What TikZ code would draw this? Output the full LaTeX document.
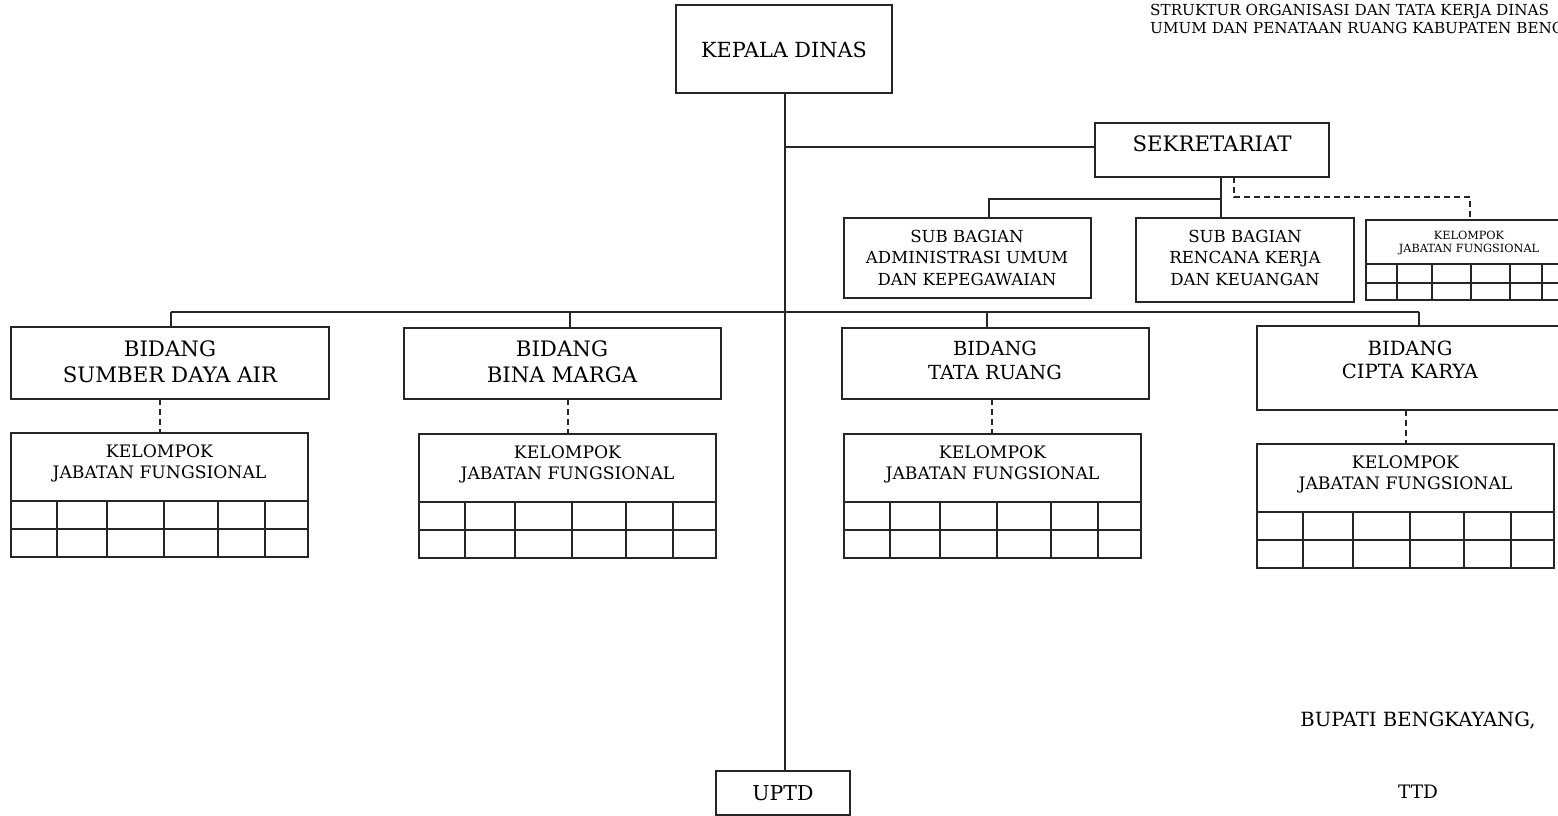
\documentclass[tikz,border=0pt]{standalone}
\usepackage{fontspec}
\setmainfont{DejaVu Serif}
\usetikzlibrary{calc}
\tikzset{
  box/.style={draw=black!85, line width=1.3pt, inner sep=0pt, outer sep=0pt},
  lbl/.style={align=center, inner sep=0pt, text=black},
  conn/.style={draw=black!85, line width=1.3pt},
  dconn/.style={draw=black!85, line width=1.3pt, dash pattern=on 6pt off 4pt},
}
\newcommand\kjfbox[3]{%
  \node[box, anchor=north west, minimum width=297pt, minimum height=124pt] (#1) at (#2,#3) {};
  \draw[conn] ($(#1.north west)+(0,68)$) -- ++(297,0);
  \draw[conn] ($(#1.north west)+(0,96)$) -- ++(297,0);
  \foreach \o in {46,96,153,207,254} {\draw[conn] ($(#1.north west)+(\o,68)$) -- ++(0,56);}
  \node[lbl, font=\fontsize{17.2}{21}\selectfont] at ($(#1.north)+(0,30)$) {KELOMPOK\\JABATAN FUNGSIONAL};
}
\begin{document}
\begin{tikzpicture}[x=1pt,y=-1pt]
\clip (0,0) rectangle (1558,816);
\useasboundingbox (0,0) rectangle (1558,816);

% top right title
\node[lbl, anchor=west, align=left, font=\fontsize{15.2}{18}\selectfont] (title) at (1150,19) {STRUKTUR ORGANISASI DAN TATA KERJA DINAS\\UMUM DAN PENATAAN RUANG KABUPATEN BENG};

% boxes
\node[box, anchor=north west, minimum width=216pt, minimum height=88pt] (kd) at (676,5) {};
\node[lbl, font=\fontsize{20.8}{25}\selectfont] at (784,50) {KEPALA DINAS};

\node[box, anchor=north west, minimum width=134pt, minimum height=44pt] (uptd) at (716,771) {};
\node[lbl, font=\fontsize{20.5}{24}\selectfont] at (783,793) {UPTD};

\node[box, anchor=north west, minimum width=234pt, minimum height=54pt] (sek) at (1095,123) {};
\node[lbl, font=\fontsize{21.3}{25}\selectfont] at (1212,144) {SEKRETARIAT};

\node[box, anchor=north west, minimum width=247pt, minimum height=80pt] (sba) at (844,218) {};
\node[lbl, font=\fontsize{16.6}{21.5}\selectfont] at (967,257.5) {SUB BAGIAN\\ADMINISTRASI UMUM\\DAN KEPEGAWAIAN};

\node[box, anchor=north west, minimum width=218pt, minimum height=84pt] (sbr) at (1136,218) {};
\node[lbl, font=\fontsize{16.6}{21.5}\selectfont] at (1245,257.5) {SUB BAGIAN\\RENCANA KERJA\\DAN KEUANGAN};

% small kelompok box
\node[box, anchor=north west, minimum width=208pt, minimum height=80pt] (ksm) at (1366,220) {};
\draw[conn] (1366,264) -- (1574,264);
\draw[conn] (1366,283) -- (1574,283);
\foreach \x in {1397,1432,1471,1510,1542} {\draw[conn] (\x,264) -- (\x,300);}
\node[lbl, font=\fontsize{11.3}{13}\selectfont] at (1469,242.5) {KELOMPOK\\JABATAN FUNGSIONAL};

% bidang
\node[box, anchor=north west, minimum width=318pt, minimum height=72pt] (bsda) at (11,327) {};
\node[lbl, font=\fontsize{21.3}{26}\selectfont] at (170,362) {BIDANG\\SUMBER DAYA AIR};

\node[box, anchor=north west, minimum width=317pt, minimum height=71pt] (bbm) at (404,328) {};
\node[lbl, font=\fontsize{21.3}{26}\selectfont] at (562,362) {BIDANG\\BINA MARGA};

\node[box, anchor=north west, minimum width=307pt, minimum height=71pt] (btr) at (842,328) {};
\node[lbl, font=\fontsize{19.4}{24}\selectfont] at (995,360) {BIDANG\\TATA RUANG};

\node[box, anchor=north west, minimum width=320pt, minimum height=84pt] (bck) at (1257,326) {};
\node[lbl, font=\fontsize{19.6}{23}\selectfont] at (1410,359.5) {BIDANG\\CIPTA KARYA};

% kelompok boxes
\kjfbox{k1}{11}{433}
\kjfbox{k2}{419}{434}
\kjfbox{k3}{844}{434}
\kjfbox{k4}{1257}{444}

% bottom right
\node[lbl, font=\fontsize{19.6}{22}\selectfont] (bupati) at (1418,721) {BUPATI BENGKAYANG,};
\node[lbl, font=\fontsize{18.5}{22}\selectfont] (ttd) at (1418,792) {TTD};

% connectors
\coordinate (trunk) at (785,147);
\draw[conn] (kd.south -| trunk) -- (uptd.north -| trunk);
\draw[conn] (trunk) -- (trunk -| sek.west);

\coordinate (sj) at (1221,199);
\draw[conn] (sek.south -| sj) -- (sbr.north -| sj);
\draw[conn] (sj) -| (989,199) -- (sba.north -| 989,0);
\draw[dconn] (sek.south -| 1234,0) -- (1234,197) -- (1470,197) -- (ksm.north -| 1470,0);

\draw[conn] (171,312) -- (1419,312);
\draw[conn] (171,312) -- (bsda.north -| 171,0);
\draw[conn] (570,312) -- (bbm.north -| 570,0);
\draw[conn] (987,312) -- (btr.north -| 987,0);
\draw[conn] (1419,312) -- (bck.north -| 1419,0);

\draw[dconn] (bsda.south -| 160,0) -- (k1.north -| 160,0);
\draw[dconn] (bbm.south -| 568,0) -- (k2.north -| 568,0);
\draw[dconn] (btr.south -| 992,0) -- (k3.north -| 992,0);
\draw[dconn] (bck.south -| 1406,0) -- (k4.north -| 1406,0);
\end{tikzpicture}
\end{document}
